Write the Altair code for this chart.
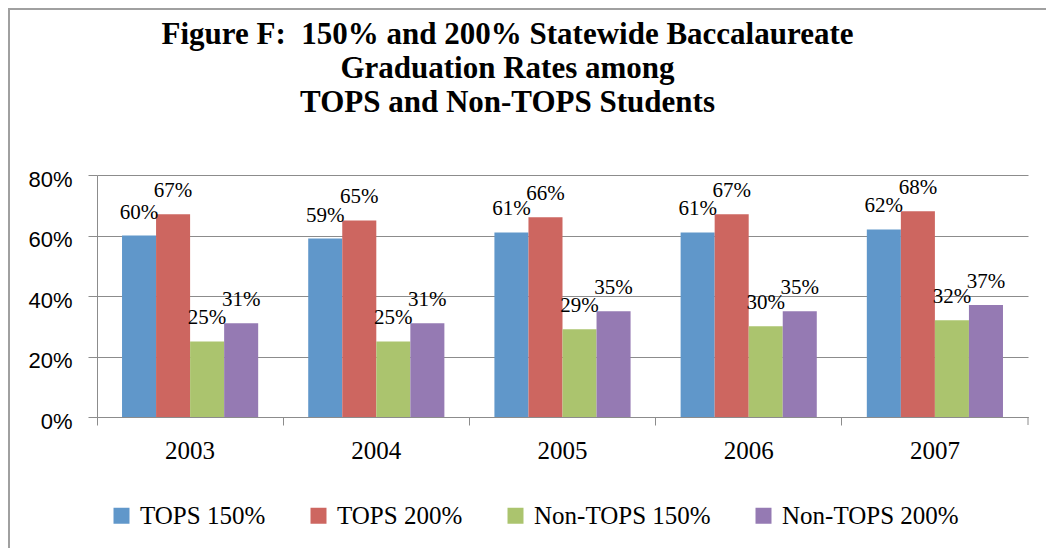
import altair as alt
import pandas as pd

years = ["2003", "2004", "2005", "2006", "2007"]
series = ["TOPS 150%", "TOPS 200%", "Non-TOPS 150%", "Non-TOPS 200%"]
tops_150 = [0.60, 0.59, 0.61, 0.61, 0.62]
tops_200 = [0.67, 0.65, 0.66, 0.67, 0.68]
non_tops_150 = [0.25, 0.25, 0.29, 0.30, 0.32]
non_tops_200 = [0.31, 0.31, 0.35, 0.35, 0.37]
colors = ["#6097CA", "#CD6660", "#ABC46E", "#957AB3"]
title_lines = ["Figure F:\u00a0 150% and 200% Statewide Baccalaureate",
               "Graduation Rates among",
               "TOPS and Non-TOPS Students"]

rows = []
for s, vals in zip(series, [tops_150, tops_200, non_tops_150, non_tops_200]):
    for y, v in zip(years, vals):
        rows.append({"year": y, "series": s, "value": v})
df = pd.DataFrame(rows)

W, H = 931, 242
GRAY = "#8C8C8C"

base = alt.Chart(df).encode(
    x=alt.X("year:N", sort=years, title=None,
            scale=alt.Scale(paddingInner=0, paddingOuter=0),
            axis=alt.Axis(labelAngle=0, labelFont="Liberation Serif", labelFontSize=25,
                          labelColor="black", labelPadding=13, tickSize=8,
                          bandPosition=0, domainColor=GRAY, tickColor=GRAY, grid=False)),
    xOffset=alt.XOffset("series:N", sort=series,
                        scale=alt.Scale(paddingOuter=0.735, paddingInner=0)),
)

bars = base.mark_bar().encode(
    y=alt.Y("value:Q", title=None,
            scale=alt.Scale(domain=[0, 0.8], nice=False),
            axis=alt.Axis(format=".0%", values=[0, 0.2, 0.4, 0.6, 0.8],
                          labelFont="Liberation Sans", labelFontSize=22, labelColor="black",
                          labelPadding=16, tickSize=9, labelOffset=4,
                          domainColor=GRAY, tickColor=GRAY, gridColor=GRAY, grid=True)),
    color=alt.Color("series:N", sort=series,
                    scale=alt.Scale(domain=series, range=colors),
                    legend=alt.Legend(title=None, orient="none", direction="horizontal",
                                      legendX=12, legendY=328, symbolType="square",
                                      symbolSize=256, symbolStrokeWidth=0, symbolOpacity=1,
                                      labelFont="Liberation Serif", labelFontSize=25,
                                      labelColor="black", labelOffset=6, columnPadding=40,
                                      labelLimit=400, padding=0)),
)

labels = base.mark_text(font="Liberation Serif", fontSize=21, color="black",
                        baseline="alphabetic", dy=-17).encode(
    y="value:Q",
    text=alt.Text("value:Q", format=".0%"),
)

one = pd.DataFrame({"a": [0]})
end_tick = alt.Chart(one).mark_rule(color=GRAY).encode(
    x=alt.value(W), y=alt.value(H), y2=alt.value(H + 8))
left_border = alt.Chart(one).mark_rule(color="#A0A0A0", strokeWidth=2).encode(
    x=alt.value(-88), y=alt.value(-167), y2=alt.value(373))
top_border = alt.Chart(one).mark_rule(color="#A0A0A0", strokeWidth=2).encode(
    x=alt.value(-89), x2=alt.value(949), y=alt.value(-166))

chart = alt.layer(bars, labels, end_tick, left_border, top_border).properties(
    width=W, height=H,
    title=alt.Title(title_lines, font="Liberation Serif", fontSize=31, fontWeight="bold",
                    color="black", lineHeight=34, anchor="middle", frame="group",
                    dx=-55, offset=-112),
    autosize=alt.AutoSizeParams(type="none"),
    padding={"left": 89, "top": 167, "right": 18, "bottom": 131},
).configure(background="white", view=alt.ViewConfig(stroke="transparent", strokeWidth=0))

chart.save("out.html", embed_options={"renderer": "svg", "actions": False})
